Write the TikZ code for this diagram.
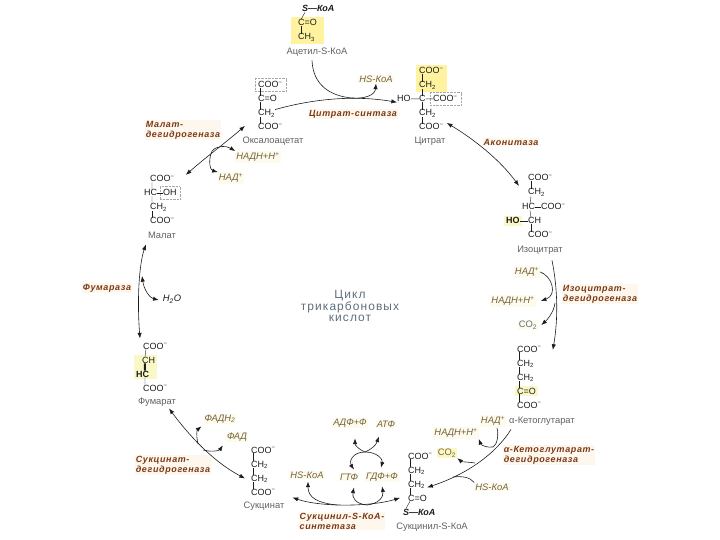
\documentclass[tikz,border=0pt]{standalone}
\usepackage{fontspec}
\usepackage{xcolor}
\setmainfont{Liberation Sans}
\newfontfamily\enzfont[LetterSpace=7]{Liberation Sans}
\newfontfamily\cyclefont[LetterSpace=9]{Liberation Sans}
\usetikzlibrary{arrows.meta,positioning,fit,calc,backgrounds}
\definecolor{Ink}{HTML}{1C1C1C}
\definecolor{MutedInk}{HTML}{606060}
\definecolor{Enzyme}{HTML}{7B3A16}
\definecolor{EnzymeBack}{HTML}{FEF7EE}
\definecolor{Cofactor}{HTML}{75623A}
\definecolor{CofactorBack}{HTML}{FDFAEE}
\definecolor{Mark}{HTML}{FFF3A0}
\definecolor{MarkPale}{HTML}{FBF8C8}
\definecolor{Cycle}{HTML}{5F6E7C}
\definecolor{Frame}{HTML}{A8A8A0}
\newcommand{\coo}{COO\textsuperscript{−}}
\newcommand{\chtwo}{CH\textsubscript{2}}

\begin{document}
\begin{tikzpicture}[x=1bp,y=-1bp,
  atom/.style={inner sep=0pt,anchor=base west,text=Ink,font=\fontsize{9}{9}\selectfont},
  under/.style={at={([yshift=-14bp]#1.base west)}},
  sname/.style={inner sep=0pt,text=MutedInk,font=\fontsize{9.4}{10}\selectfont},
  cof/.style={inner sep=1pt,fill=CofactorBack,text=Cofactor,font=\fontsize{9.4}{10}\selectfont\itshape},
  enz/.style={inner sep=1pt,fill=EnzymeBack,text=Enzyme,align=left,font=\fontsize{9}{10}\selectfont\enzfont\bfseries\itshape},
  bond/.style={thin,color=Ink},
  arr/.style={-{Latex[length=2mm]},semithick,color=Ink},
  arrs/.style={{Latex[length=2mm]}-{Latex[length=2mm]},semithick,color=Ink},
  link/.style={semithick,color=Ink},
  hilite/.style={fill=Mark,inner xsep=3bp,inner ysep=3bp},
  hilitepale/.style={fill=MarkPale,inner xsep=2bp,inner ysep=2bp},
  dbox/.style={draw=Frame,densely dotted,inner xsep=3bp,inner ysep=3bp}]
\useasboundingbox (0,0) rectangle (720,540);

% acetyl
\node[atom,font=\fontsize{9}{9}\selectfont\bfseries\itshape] (ac1) at (302,12) {S—КоА};
\node[atom] (ac2) at (298,26) {C=O};
\node[atom,under=ac2] (ac3) {CH\textsubscript{3}};
\node[sname] (acname) at (317,52) {Ацетил-S-КоА};

% oxaloacetate
\node[atom] (ox1) at (258,88) {\coo};
\node[atom,under=ox1] (ox2) {C=O};
\node[atom,under=ox2] (ox3) {\chtwo};
\node[atom,under=ox3] (ox4) {\coo};
\node[sname] (oxname) at (273,141) {Оксалоацетат};

% citrate
\node[atom] (ci1) at (419,74) {\coo};
\node[atom,under=ci1] (ci2) {\chtwo};
\node[atom,under=ci2] (ci3) {C};
\node[atom,under=ci3] (ci4) {\chtwo};
\node[atom,under=ci4] (ci5) {\coo};
\node[atom] (cihy) at (397,102) {HO};
\node[atom] (cico) at (433,102) {\coo};
\node[sname] (ciname) at (430,141) {Цитрат};

% isocitrate
\node[atom] (is1) at (528,181) {\coo};
\node[atom,under=is1] (is2) {\chtwo};
\node[atom] (is3) at (522,210) {HC};
\node[atom] (isco) at (541,210) {\coo};
\node[atom] (is4) at (528,224) {CH};
\node[atom,font=\fontsize{9}{9}\selectfont\bfseries] (ishy) at (506,224) {HO};
\node[atom,under=is4] (is5) {\coo};
\node[sname] (isname) at (540,250) {Изоцитрат};

% ketoglutarate
\node[atom] (ke1) at (517,352) {\coo};
\node[atom,under=ke1] (ke2) {\chtwo};
\node[atom,under=ke2] (ke3) {\chtwo};
\node[atom,under=ke3] (ke4) {C=O};
\node[atom,under=ke4] (ke5) {\coo};
\node[sname] (kename) at (542,421) {α-Кетоглутарат};

% succinyl
\node[atom] (sy1) at (408,459) {\coo};
\node[atom,under=sy1] (sy2) {\chtwo};
\node[atom,under=sy2] (sy3) {\chtwo};
\node[atom,under=sy3] (sy4) {C=O};
\node[atom,font=\fontsize{9}{9}\selectfont\bfseries\itshape] (sy5) at (403,515) {S—КоА};
\node[sname] (syname) at (432,527) {Сукцинил-S-КоА};

% succinate
\node[atom] (sc1) at (251,453) {\coo};
\node[atom,under=sc1] (sc2) {\chtwo};
\node[atom,under=sc2] (sc3) {\chtwo};
\node[atom,under=sc3] (sc4) {\coo};
\node[sname] (scname) at (264,506) {Сукцинат};

% fumarate
\node[atom] (fu1) at (143,349) {\coo};
\node[atom] (fu2) at (142,363) {CH};
\node[atom,font=\fontsize{9}{9}\selectfont\bfseries] (fu3) at (136,377) {HC};
\node[atom] (fu4) at (143,391) {\coo};
\node[sname] (funame) at (157,402) {Фумарат};

% malate
\node[atom] (ma1) at (150,182) {\coo};
\node[atom] (ma2) at (144,196) {HC};
\node[atom] (maoh) at (163,196) {OH};
\node[atom] (ma3) at (150,210) {\chtwo};
\node[atom,under=ma3] (ma4) {\coo};
\node[sname] (maname) at (162,235) {Малат};

% highlights
\begin{scope}[on background layer]
\node[hilite,inner xsep=7bp,fit=(ac2)(ac3)] (acmark) {};
\node[hilite,fit=(ci1)(ci2)] (cimark) {};
\node[hilitepale,fit=(ishy)] (ismark) {};
\node[hilitepale,fit=(ke4)] (kemark) {};
\node[hilitepale,fit=(fu2)(fu3)] (fumark) {};
\end{scope}
\node[dbox,fit=(ox1)] (oxbox) {};
\node[dbox,fit=(cico)] (cibox) {};
\node[dbox,fit=(maoh)] (mabox) {};

% bonds
\foreach \a/\p/\b/\q in {ox1/2/ox2/2,ox2/2/ox3/2,ox3/2/ox4/2,
  ci1/3/ci2/3,ci2/3/ci3/3,ci3/3/ci4/3,ci4/3/ci5/3,
  is1/3/is2/3,is2/3/is3/8,is3/8/is4/3,is4/3/is5/3,
  ke1/2/ke2/2,ke2/2/ke3/2,ke3/2/ke4/2,ke4/2/ke5/2,
  sy1/2/sy2/2,sy2/2/sy3/2,sy3/2/sy4/2,sy4/2/sy5/3,
  sc1/2/sc2/2,sc2/2/sc3/2,sc3/2/sc4/2,
  fu1/3/fu2/3,fu3/9/fu4/2,
  ma1/2/ma2/8,ma2/8/ma3/2,ma3/2/ma4/2,
  ac1/3/ac2/3,ac2/3/ac3/3}
  \draw[bond] ([xshift=\p pt]\a.south west) -- ([xshift=\q pt]\b.north west);
\foreach \a/\b in {cihy/ci3,ci3/cico,is3/isco,ishy/is4,ma2/maoh}
  \draw[bond] (\a) -- (\b);
\draw[line width=2pt,color=Ink] ([xshift=3pt]fu2.south west) -- ([xshift=9pt]fu3.north west);

% cofactors
\node[cof] (hs1) at (376,79) {HS-КоА};
\node[cof] (nadh1) at (258,157) {НАДН+Н\textsuperscript{+}};
\node[cof] (nad1) at (231,178) {НАД\textsuperscript{+}};
\node[cof] (nad2) at (527,272) {НАД\textsuperscript{+}};
\node[cof] (nadh2) at (513,301) {НАДН+Н\textsuperscript{+}};
\node[cof,text=Cycle,font=\fontsize{9.4}{10}\selectfont] (co1) at (528,325) {CO\textsubscript{2}};
\node[cof,fill=none,text=Ink] (hoh) at (172,299) {H\textsubscript{2}O};
\node[cof] (fadh) at (220,419) {ФАДН\textsubscript{2}};
\node[cof] (fad) at (237,437) {ФАД};
\node[cof] (nad3) at (493,421) {НАД\textsuperscript{+}};
\node[cof] (nadh3) at (456,433) {НАДН+Н\textsuperscript{+}};
\node[cof,fill=MarkPale,text=Cofactor,font=\fontsize{9.4}{10}\selectfont] (co2) at (447,453) {CO\textsubscript{2}};
\node[cof] (hs3) at (492,487) {HS-КоА};
\node[cof] (hs4) at (307,475) {HS-КоА};
\node[cof] (adf) at (350,423) {АДФ+Ф};
\node[cof] (atf) at (386,424) {АТФ};
\node[cof] (gtf) at (349,477) {ГТФ};
\node[cof] (gdf) at (382,477) {ГДФ+Ф};

% enzymes
\node[enz] (ecs) at (353,114) {Цитрат-синтаза};
\node[enz] (emd) at (183,130) {Малат-\\дегидрогеназа};
\node[enz] (eac) at (511,142) {Аконитаза};
\node[enz] (eid) at (600,294) {Изоцитрат-\\дегидрогеназа};
\node[enz] (ekd) at (549,455) {α-Кетоглутарат-\\дегидрогеназа};
\node[enz] (ess) at (342,521) {Сукцинил-S-КоА-\\синтетаза};
\node[enz] (esd) at (173,465) {Сукцинат-\\дегидрогеназа};
\node[enz] (efu) at (107,288) {Фумараза};

% centre
\node[inner sep=0pt,align=center,text=Cycle,font=\fontsize{12}{10.5}\selectfont\cyclefont] (cycle) at (350,306) {Цикл\\трикарбоновых\\кислот};

% junctions
\coordinate (jcs) at (352,98);
\coordinate (jmd) at (212,151);
\coordinate (jid1) at (555,303);
\coordinate (jkd) at (493,447);
\coordinate (jkc) at (475,463);
\coordinate (jkh) at (453,477);
\coordinate (jss) at (367,505);
\coordinate (jsh) at (337,505);
\coordinate (jat) at (365,452);
\coordinate (jsd1) at (198,444);
\coordinate (jsd2) at (203,450);
\coordinate (jfu) at (142,276);

% reactions
\draw[link] ([shift={(-5,4)}]acname.south) .. controls (313,85) and (330,96) .. (jcs);
\draw[arr] (jcs) .. controls (365,99) and (375,95) .. (hs1.south);
\draw[arr] (ox3.north east) .. controls (320,97) and (360,96) .. (cihy.south west);
\draw[arrs] ([shift={(11,-4)}]ma1.east) .. controls (205,158) and (225,143) .. ([shift={(-13,-1)}]ox4.west);
\draw[arr] (jmd) .. controls (217,145) and (227,146) .. (nadh1.north west);
\draw[arr] (jmd) .. controls (208,160) and (210,170) .. (nad1.north west);
\draw[arrs] ([shift={(3,-4)}]ci5.east) .. controls (475,140) and (500,160) .. ([shift={(-9,8)}]is1.west);
\draw[arr] ([shift={(12,6)}]isname.south) .. controls (558,290) and (558,320) .. ([shift={(11,1)}]ke1.east);
\draw[arr] (nad2.east) .. controls (552,276) and (558,295) .. ([shift={(5,0)}]nadh2.east);
\draw[arr] (jid1) .. controls (554,312) and (547,320) .. ([shift={(3,0)}]co1.east);
\draw[arr] ([shift={(2,4)}]kename.south west) .. controls (495,455) and (465,475) .. ([shift={(2,3)}]sy3.east);
\draw[link] ([shift={(4,1)}]nad3.south) .. controls (499,435) and (497,445) .. (jkd);
\draw[arr] (jkd) .. controls (487,448) and (481,445) .. (nadh3.south east);
\draw[arr] (jkc) .. controls (470,462) and (462,462) .. (co2.south east);
\draw[link] (hs3.north west) .. controls (470,477) and (462,476) .. (jkh);
\draw[arrs] ([shift={(-8,0)}]sy4.west) .. controls (370,507) and (320,507) .. ([shift={(8,-4)}]scname.north east);
\draw[arr] (jsh) .. controls (318,503) and (308,498) .. ([shift={(1,2)}]hs4.south);
\draw[arr] (jss) .. controls (355,504) and (352,497) .. ([shift={(5,6)}]gtf.south);
\draw[arr] (jss) .. controls (378,504) and (384,497) .. ([shift={(0,4)}]gdf.south);
\draw[arr] (jat) .. controls (358,449) and (355,445) .. ([shift={(5,10)}]adf.south);
\draw[arr] (jat) .. controls (372,449) and (376,445) .. ([shift={(-7,8)}]atf.south);
\draw[arr] (jat) .. controls (352,452) and (349,462) .. ([shift={(5,-3)}]gtf.north);
\draw[arr] (jat) .. controls (378,452) and (383,460) .. ([shift={(-1,-4)}]gdf.north);
\draw[arrs] ([shift={(12,2)}]funame.south) .. controls (185,430) and (210,460) .. ([shift={(-6,0)}]sc3.west);
\draw[arr] (jsd1) .. controls (196,435) and (197,430) .. ([shift={(-2,2)}]fadh.south west);
\draw[arr] (jsd2) .. controls (210,452) and (219,451) .. ([shift={(-3,3)}]fad.south west);
\draw[arrs] ([shift={(-2,6)}]maname.south west) .. controls (139,265) and (137,300) .. ([shift={(-3,-4)}]fu1.north west);
\draw[arrs] (jfu) .. controls (144,290) and (150,298) .. ([shift={(-3,1)}]hoh.west);
\end{tikzpicture}
\end{document}
